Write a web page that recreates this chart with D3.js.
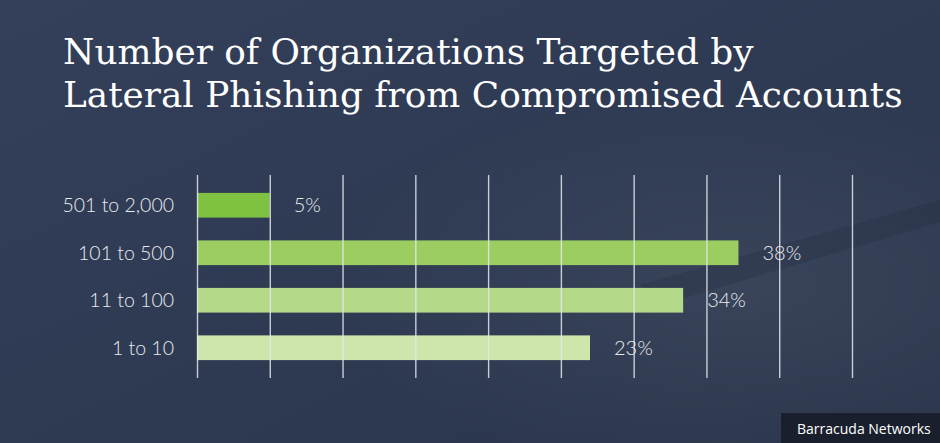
<!DOCTYPE html>
<html lang="en">
    <head>
        <meta charset="utf-8">
        <title>Lateral Phishing</title>
        <style type="text/css">
            body { margin: 0; background: #2d384f; }
            text.title { font-family: "DejaVu Serif"; fill: #ffffff; }
            text.catLabel { font-family: "Lato", "Open Sans", sans-serif; font-weight: 300; font-size: 19.5px; fill: #e8ebf0; }
            text.valLabel { font-family: "Lato", "Open Sans", sans-serif; font-weight: 300; font-size: 20px; fill: #e8ebf0; }
            text.credit { font-family: "Open Sans", sans-serif; font-size: 14px; fill: #ffffff; }
        </style>
    </head>
    <body>
        <script src="https://cdnjs.cloudflare.com/ajax/libs/d3/7.8.5/d3.min.js"></script>
        <script type="text/javascript">

          // chart data
          const categories = ["501 to 2,000", "101 to 500", "11 to 100", "1 to 10"];
          const percentLabels = [5, 38, 34, 23];
          // bar lengths as drawn in the picture (in % units of the grid)
          const barLengths = [5, 37.2, 33.4, 27];
          const barColors = ["#7fc241", "#9bcd60", "#b4da89", "#cee6ab"];
          const titleLines = ["Number of Organizations Targeted by", "Lateral Phishing from Compromised Accounts"];

          const width = 940;
          const height = 443;

          var svg = d3.select("body")
                      .append("svg")
                      .attr("width", width)
                      .attr("height", height);

          // background
          var defs = svg.append("defs");
          var grad = defs.append("linearGradient")
                         .attr("id", "bg")
                         .attr("x1", 0).attr("y1", 0)
                         .attr("x2", 1).attr("y2", 1);
          grad.append("stop").attr("offset", "0%").attr("stop-color", "#34405a");
          grad.append("stop").attr("offset", "55%").attr("stop-color", "#2e3a52");
          grad.append("stop").attr("offset", "100%").attr("stop-color", "#2a354c");

          var glow = defs.append("radialGradient")
                         .attr("id", "glow")
                         .attr("cx", 0.8).attr("cy", 0.65).attr("r", 0.45);
          glow.append("stop").attr("offset", "0%").attr("stop-color", "#ffffff").attr("stop-opacity", 0.06);
          glow.append("stop").attr("offset", "100%").attr("stop-color", "#ffffff").attr("stop-opacity", 0);

          svg.append("rect")
             .attr("width", width)
             .attr("height", height)
             .attr("fill", "url(#bg)");

          // faint light area hinting at the photo behind the chart
          svg.append("rect")
             .attr("width", width)
             .attr("height", height)
             .attr("fill", "url(#glow)");

          svg.append("path")
             .attr("d", "M640,285 L940,200 L940,222 L660,305 Z")
             .attr("fill", "#1f283a")
             .attr("opacity", 0.25);

          // title
          var title = svg.append("g");
          title.selectAll("text")
               .data(titleLines)
               .enter()
               .append("text")
               .attr("class", "title")
               .attr("x", 63)
               .attr("y", function(d, i) { return 64 + i * 43; })
               .style("font-size", "32px")
               .text(function(d) { return d; });

          // fit the long title line to the width it has in the picture
          var longLine = title.selectAll("text").nodes()[1];
          var scaleFit = 840 / longLine.getComputedTextLength();
          title.selectAll("text").style("font-size", (32 * scaleFit) + "px");

          // scales
          var xScale = d3.scaleLinear()
                         .domain([0, 45])
                         .range([197, 852]);

          var yScale = d3.scaleBand()
                         .domain(categories)
                         .range([181.5, 371.5])
                         .paddingInner(0.48)
                         .paddingOuter(0.24);

          // bars
          svg.selectAll("rect.bar")
             .data(barLengths)
             .enter()
             .append("rect")
             .attr("class", "bar")
             .attr("x", xScale(0))
             .attr("y", function(d, i) { return yScale(categories[i]); })
             .attr("width", function(d) { return xScale(d) - xScale(0); })
             .attr("height", yScale.bandwidth())
             .attr("fill", function(d, i) { return barColors[i]; });

          // vertical grid lines drawn on top of the bars
          var grid = d3.axisBottom(xScale)
                       .tickValues(xScale.ticks(9))
                       .tickSize(203)
                       .tickFormat("");

          svg.append("g")
             .attr("transform", "translate(0,175)")
             .call(grid)
             .call(function(g) { g.select(".domain").remove(); })
             .selectAll("line")
             .attr("stroke", "#e4e8ef")
             .attr("stroke-width", 1.4)
             .attr("opacity", 0.85);

          // category labels
          svg.selectAll("text.catLabel")
             .data(categories)
             .enter()
             .append("text")
             .attr("class", "catLabel")
             .attr("x", 174)
             .attr("y", function(d) { return yScale(d) + yScale.bandwidth() / 2; })
             .attr("dy", "0.35em")
             .attr("text-anchor", "end")
             .text(function(d) { return d; });

          // value labels
          svg.selectAll("text.valLabel")
             .data(percentLabels)
             .enter()
             .append("text")
             .attr("class", "valLabel")
             .attr("x", function(d, i) { return xScale(barLengths[i]) + 24; })
             .attr("y", function(d, i) { return yScale(categories[i]) + yScale.bandwidth() / 2; })
             .attr("dy", "0.35em")
             .text(function(d) { return d + "%"; });

          // credit box
          svg.append("rect")
             .attr("x", 781)
             .attr("y", 413)
             .attr("width", 159)
             .attr("height", 30)
             .attr("fill", "#161b27")
             .attr("opacity", 0.85);

          svg.append("text")
             .attr("class", "credit")
             .attr("x", 797)
             .attr("y", 434)
             .text("Barracuda Networks");
        </script>
    </body>
</html>
